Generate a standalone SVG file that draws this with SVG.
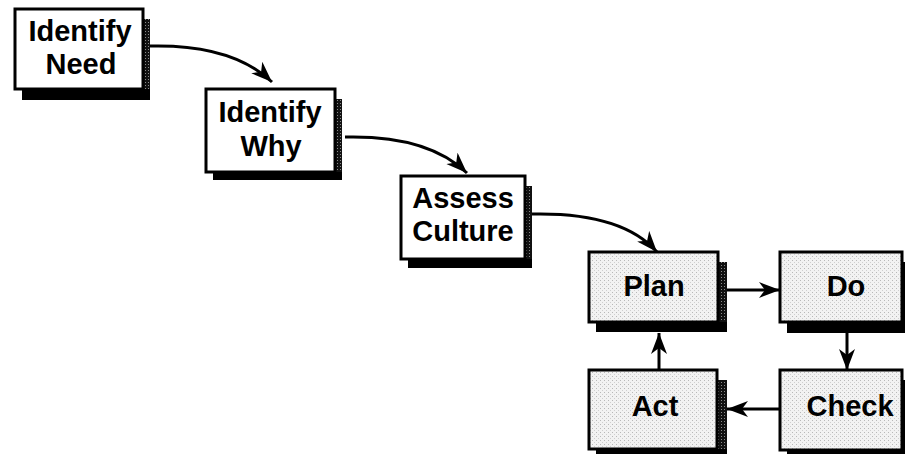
<svg xmlns="http://www.w3.org/2000/svg" width="905" height="454" viewBox="0 0 905 454">
  <defs>
    <style>
      .box { stroke: #000; stroke-width: 3; }
      .plain { fill: #fff; }
      .grey { fill: url(#stipple); }
      .shadow { fill: #000; }
      .side { fill: url(#hatch); }
      .label { font-family: "Liberation Sans", Arial, Helvetica, sans-serif; font-weight: bold; font-size: 29px; fill: #000; text-anchor: middle; }
      .link { fill: none; stroke: #000; stroke-width: 3; }
    </style>
    <!-- light dotted fill of the cycle boxes -->
    <pattern id="stipple" width="4" height="4" patternUnits="userSpaceOnUse">
      <rect width="4" height="4" fill="#f2f2f2"/>
      <rect x="0" y="0" width="1" height="1" fill="#b8b8b8"/>
      <rect x="2" y="2" width="1" height="1" fill="#cfcfcf"/>
    </pattern>
    <!-- grainy right edge of the drop shadows -->
    <pattern id="hatch" width="3" height="3" patternUnits="userSpaceOnUse">
      <rect width="3" height="3" fill="#111"/>
      <rect x="1" y="1" width="1" height="1" fill="#8a8a8a"/>
    </pattern>
    <marker id="head" markerWidth="24" markerHeight="18" refX="21" refY="8" orient="auto" markerUnits="userSpaceOnUse">
      <path d="M0,0 L21,8 L0,16 L6,8 z" fill="#000"/>
    </marker>
  </defs>

  <!-- connectors -->
  <g id="connectors">
    <path class="link" d="M150,46 Q232,44 272,82" marker-end="url(#head)"/>
    <path class="link" d="M345,137 Q428,135 467,173" marker-end="url(#head)"/>
    <path class="link" d="M532,214 Q622,212 657,252" marker-end="url(#head)"/>
    <path class="link" d="M727,290 L780,290" marker-end="url(#head)"/>
    <path class="link" d="M847,333 L847,370" marker-end="url(#head)"/>
    <path class="link" d="M780,409 L727,409" marker-end="url(#head)"/>
    <path class="link" d="M659,370 L659,333" marker-end="url(#head)"/>
  </g>

  <g id="identify-need">
    <rect class="shadow" x="22" y="19" width="128" height="81"/>
    <rect class="side" x="143" y="19" width="7" height="70"/>
    <rect class="box plain" x="15" y="9" width="128" height="80"/>
    <text class="label" x="80" y="41">Identify</text>
    <text class="label" x="81" y="74">Need</text>
  </g>

  <g id="identify-why">
    <rect class="shadow" x="213" y="99" width="129" height="81"/>
    <rect class="side" x="335" y="99" width="7" height="73"/>
    <rect class="box plain" x="206" y="89" width="129" height="83"/>
    <text class="label" x="270" y="122">Identify</text>
    <text class="label" x="271" y="156">Why</text>
  </g>

  <g id="assess-culture">
    <rect class="shadow" x="408" y="186" width="124" height="82"/>
    <rect class="side" x="525" y="186" width="7" height="73"/>
    <rect class="box plain" x="401" y="176" width="124" height="83"/>
    <text class="label" x="463" y="208">Assess</text>
    <text class="label" x="463" y="241">Culture</text>
  </g>

  <g id="plan">
    <rect class="shadow" x="596" y="262" width="131" height="70"/>
    <rect class="side" x="718" y="262" width="9" height="60"/>
    <rect class="box grey" x="589" y="252" width="129" height="70"/>
    <text class="label" x="654" y="296">Plan</text>
  </g>

  <g id="do">
    <rect class="shadow" x="787" y="262" width="122" height="71"/>
    <rect class="box grey" x="780" y="252" width="122" height="70"/>
    <text class="label" x="846" y="296">Do</text>
  </g>

  <g id="check">
    <rect class="shadow" x="787" y="380" width="122" height="80"/>
    <rect class="box grey" x="780" y="370" width="122" height="80"/>
    <text class="label" x="850" y="416">Check</text>
  </g>

  <g id="act">
    <rect class="shadow" x="596" y="380" width="131" height="80"/>
    <rect class="side" x="717" y="380" width="10" height="69"/>
    <rect class="box grey" x="589" y="370" width="128" height="79"/>
    <text class="label" x="655" y="416">Act</text>
  </g>
</svg>
